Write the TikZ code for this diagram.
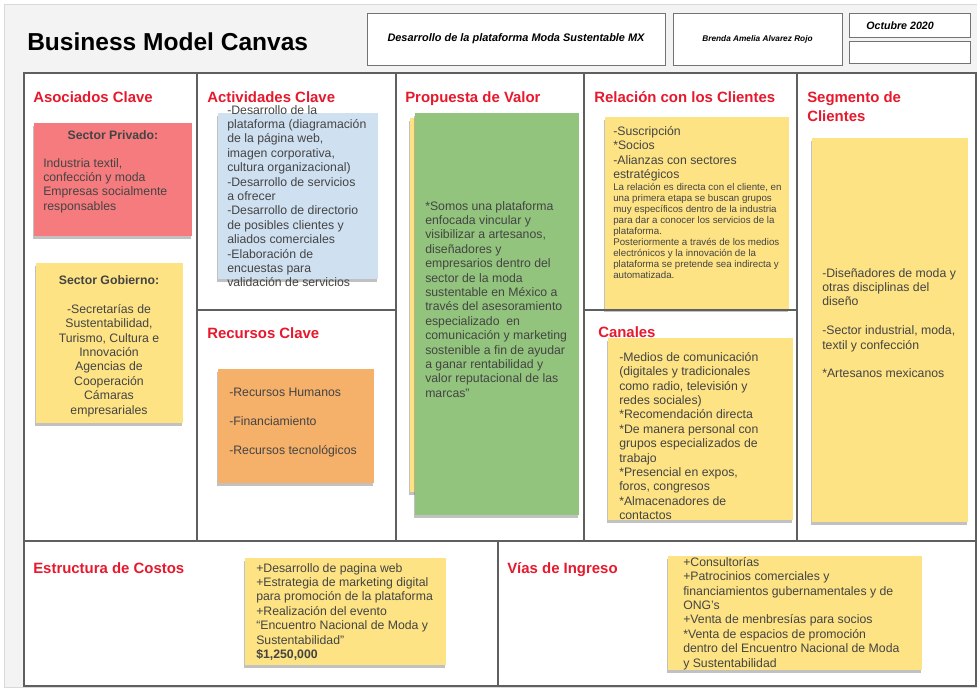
\documentclass[tikz,border=0pt]{standalone}
\usepackage{fontspec}
\setmainfont{Liberation Sans}
\usetikzlibrary{shadows}

\definecolor{headred}{RGB}{230,25,45}
\definecolor{txtgray}{RGB}{68,68,68}
\definecolor{linegray}{RGB}{95,95,95}
\definecolor{bggray}{RGB}{243,243,243}
\definecolor{notepink}{RGB}{246,123,126}
\definecolor{noteyellow}{RGB}{253,227,132}
\definecolor{noteblue}{RGB}{207,224,241}
\definecolor{noteorange}{RGB}{245,176,106}
\definecolor{notegreen}{RGB}{147,196,125}

\tikzset{
  head/.style={anchor=base west,inner sep=0pt,text=headred,font=\fontsize{11.2}{14.2}\selectfont\bfseries},
  txt/.style={anchor=north west,inner sep=0pt,align=left,text=txtgray,font=\fontsize{9.2}{10.8}\selectfont},
  sticky/.style={drop shadow={shadow xshift=-1pt,shadow yshift=-2.5pt,opacity=.4,fill=black!60}},
  hbox/.style={draw=black!55,fill=white,line width=.6pt,inner sep=0pt},
}

\begin{document}
\begin{tikzpicture}[x=0.75pt,y=-0.75pt]
\useasboundingbox (0,0) rectangle (977,687);
\fill[white] (0,0) rectangle (977,687);
\draw[black!15,fill=bggray] (4,4) rectangle (977,687);

% header
\node[anchor=base west,inner sep=0pt,font=\fontsize{18.4}{22}\selectfont\bfseries] (bmc) at (27,50) {Business Model Canvas};
\node[hbox,minimum width=223.5pt,minimum height=39pt,font=\fontsize{8.2}{10}\selectfont\bfseries\itshape] (proyecto) at (516,39) {Desarrollo de la plataforma Moda Sustentable MX};
\node[hbox,minimum width=126.75pt,minimum height=39pt,font=\fontsize{6.2}{8}\selectfont\bfseries\itshape] (autora) at (757.5,39) {Brenda Amelia Alvarez Rojo};
\node[hbox,minimum width=90.75pt,minimum height=18pt,anchor=north west] (fechabox) at (849,13) {};
\node[hbox,minimum width=90.75pt,minimum height=16.5pt,anchor=north west] (vaciobox) at (849,41) {};
\node[anchor=base west,inner sep=0pt,font=\fontsize{8}{10}\selectfont\bfseries\itshape] (fecha) at (866,29) {Octubre 2020};

% canvas
\fill[white] (24,73) rectangle (976,686);
\draw[linegray,line width=1.6pt] (24,73) rectangle (976,686);
\draw[linegray,line width=1.1pt] (197,73) -- (197,541);
\draw[linegray,line width=1.1pt] (396,73) -- (396,541);
\draw[linegray,line width=1.1pt] (584,73) -- (584,541);
\draw[linegray,line width=1.1pt] (797,73) -- (797,541);
\draw[linegray,line width=1.1pt] (197,310) -- (396,310);
\draw[linegray,line width=1.1pt] (584,310) -- (797,310);
\draw[linegray,line width=1.4pt] (24,541) -- (976,541);
\draw[linegray,line width=1.1pt] (498,541) -- (498,686);

% sticky notes
\fill[notepink,sticky] (34,123) rectangle (192,236);
\fill[noteyellow,sticky] (36,263) rectangle (183,423);
\fill[noteblue,sticky] (218,113) rectangle (378,279);
\fill[noteorange,sticky] (218,369) rectangle (374,483);
\fill[noteyellow,sticky] (410,118) rectangle (575,492);
\fill[notegreen,sticky] (415,113) rectangle (579,515);
\fill[noteyellow,sticky] (605,117) rectangle (789,309);
\fill[noteyellow,sticky] (608,338) rectangle (793,520);
\fill[noteyellow,sticky] (812,138) rectangle (968,522);
\fill[noteyellow,sticky] (245,558) rectangle (446,665);
\fill[noteyellow,sticky] (668,556) rectangle (922,670);

% headings
\node[head] (asociados) at (33,102) {Asociados Clave};
\node[head] (actividades) at (207,102) {Actividades Clave};
\node[head] (propuesta) at (405,102) {Propuesta de Valor};
\node[head] (relacion) at (594,102) {Relación con los Clientes};
\node[head,anchor=north west,align=left] (segmento) at (807,91) {Segmento de\\Clientes};
\node[head] (recursos) at (207,338) {Recursos Clave};
\node[head] (canales) at (598,337) {Canales};
\node[head] (costos) at (33,573) {Estructura de Costos};
\node[head] (ingresos) at (507,573) {Vías de Ingreso};

% texts
\node[txt,anchor=center,font=\fontsize{9.2}{10.8}\selectfont\bfseries] (privado) at (113,135) {Sector Privado:};
\node[txt] (privadotxt) at (43,158) {Industria textil,\\confección y moda\\Empresas socialmente\\responsables};
\node[txt,anchor=center,font=\fontsize{9.2}{10.8}\selectfont\bfseries] (gobierno) at (109,280) {Sector Gobierno:};
\node[txt,anchor=north,align=center] (gobiernotxt) at (109,304) {-Secretarías de\\Sustentabilidad,\\Turismo, Cultura e\\Innovación\\Agencias de\\Cooperación\\Cámaras\\empresariales};
\node[txt] (actividadestxt) at (227,105) {-Desarrollo de la\\plataforma (diagramación\\de la página web,\\imagen corporativa,\\cultura organizacional)\\-Desarrollo de servicios\\a ofrecer\\-Desarrollo de directorio\\de posibles clientes y\\aliados comerciales\\-Elaboración de\\encuestas para\\validación de servicios};
\node[txt] (recursostxt) at (229,388) {-Recursos Humanos\\[10.8pt]-Financiamiento\\[10.8pt]-Recursos tecnológicos};
\node[txt] (propuestatxt) at (425,201) {*Somos una plataforma\\enfocada vincular y\\visibilizar a artesanos,\\diseñadores y\\empresarios dentro del\\sector de la moda\\sustentable en México a\\través del asesoramiento\\especializado~ en\\comunicación y marketing\\sostenible a fin de ayudar\\a ganar rentabilidad y\\valor reputacional de las\\marcas”};
\node[txt] (relaciontxt) at (613,126) {-Suscripción\\*Socios\\-Alianzas con sectores\\estratégicos};
\node[txt,font=\fontsize{7.3}{8.3}\selectfont] (relacionnota) at (613,183) {La relación es directa con el cliente, en\\una primera etapa se buscan grupos\\muy específicos dentro de la industria\\para dar a conocer los servicios de la\\plataforma.\\Posteriormente a través de los medios\\electrónicos y la innovación de la\\plataforma se pretende sea indirecta y\\automatizada.};
\node[txt] (canalestxt) at (619,352) {-Medios de comunicación\\(digitales y tradicionales\\como radio, televisión y\\redes sociales)\\*Recomendación directa\\*De manera personal con\\grupos especializados de\\trabajo\\*Presencial en expos,\\foros, congresos\\*Almacenadores de\\contactos};
\node[txt] (segmentotxt) at (822,268) {-Diseñadores de moda y\\otras disciplinas del\\diseño\\[10.8pt]-Sector industrial, moda,\\textil y confección\\[10.8pt]*Artesanos mexicanos};
\node[txt] (costostxt) at (256,563) {+Desarrollo de pagina web\\+Estrategia de marketing digital\\para promoción de la plataforma\\+Realización del evento\\“Encuentro Nacional de Moda y\\Sustentabilidad”\\\textbf{\$1,250,000}};
\node[txt] (ingresostxt) at (683,557) {+Consultorías\\+Patrocinios comerciales y\\financiamientos gubernamentales y de\\ONG’s\\+Venta de menbresías para socios\\*Venta de espacios de promoción\\dentro del Encuentro Nacional de Moda\\y Sustentabilidad};
\end{tikzpicture}
\end{document}
